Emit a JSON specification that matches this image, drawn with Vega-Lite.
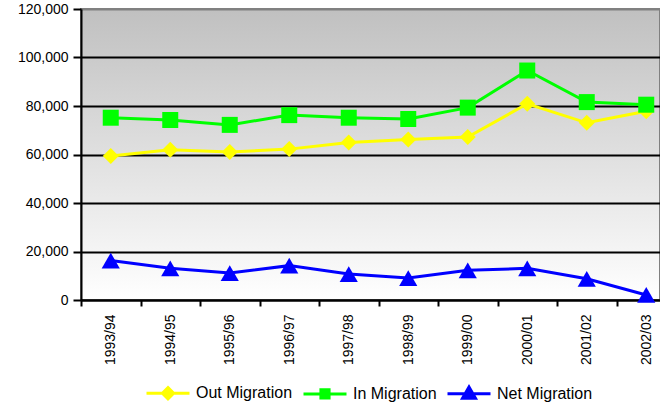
{
  "$schema": "https://vega.github.io/schema/vega-lite/v6.json",
  "autosize": {"type": "none"},
  "padding": {"left": 81, "top": 9, "right": 0, "bottom": 106},
  "width": 579,
  "height": 291,
  "config": {
    "font": "Liberation Sans",
    "view": {
      "stroke": "#808080",
      "strokeWidth": 2,
      "fill": {"gradient": "linear", "x1": 0, "y1": 0, "x2": 0, "y2": 1, "stops": [{"offset": 0, "color": "#c0c0c0"}, {"offset": 1, "color": "#ffffff"}]}
    },
    "axis": {"labelFont": "Liberation Sans", "labelColor": "#000000", "labelFontSize": 14, "domainColor": "#000000", "domainWidth": 2, "tickColor": "#000000", "tickWidth": 2, "gridColor": "#000000", "gridWidth": 2, "gridOpacity": 1}
  },
  "data": {
    "values": [
      {"year": "1993/94", "series": "Out Migration", "value": 59350},
      {"year": "1994/95", "series": "Out Migration", "value": 61960},
      {"year": "1995/96", "series": "Out Migration", "value": 61050},
      {"year": "1996/97", "series": "Out Migration", "value": 62220},
      {"year": "1997/98", "series": "Out Migration", "value": 64970},
      {"year": "1998/99", "series": "Out Migration", "value": 66140},
      {"year": "1999/00", "series": "Out Migration", "value": 67190},
      {"year": "2000/01", "series": "Out Migration", "value": 80910},
      {"year": "2001/02", "series": "Out Migration", "value": 73070},
      {"year": "2002/03", "series": "Out Migration", "value": 77800},
      {"year": "1993/94", "series": "In Migration", "value": 75170},
      {"year": "1994/95", "series": "In Migration", "value": 74230},
      {"year": "1995/96", "series": "In Migration", "value": 72215},
      {"year": "1996/97", "series": "In Migration", "value": 76240},
      {"year": "1997/98", "series": "In Migration", "value": 75170},
      {"year": "1998/99", "series": "In Migration", "value": 74630},
      {"year": "1999/00", "series": "In Migration", "value": 79330},
      {"year": "2000/01", "series": "In Migration", "value": 94630},
      {"year": "2001/02", "series": "In Migration", "value": 81610},
      {"year": "2002/03", "series": "In Migration", "value": 80540},
      {"year": "1993/94", "series": "Net Migration", "value": 16250},
      {"year": "1994/95", "series": "Net Migration", "value": 13060},
      {"year": "1995/96", "series": "Net Migration", "value": 11110},
      {"year": "1996/97", "series": "Net Migration", "value": 14170},
      {"year": "1997/98", "series": "Net Migration", "value": 10690},
      {"year": "1998/99", "series": "Net Migration", "value": 9030},
      {"year": "1999/00", "series": "Net Migration", "value": 12220},
      {"year": "2000/01", "series": "Net Migration", "value": 13060},
      {"year": "2001/02", "series": "Net Migration", "value": 8750},
      {"year": "2002/03", "series": "Net Migration", "value": 2080}
    ]
  },
  "encoding": {
    "x": {
      "field": "year", "type": "nominal", "title": null,
      "scale": {"type": "band", "paddingInner": 0, "paddingOuter": 0, "range": [0, 595]},
      "axis": {"labelAngle": -90, "labelPadding": 8, "tickBand": "extent", "tickSize": 6, "grid": false}
    },
    "y": {
      "field": "value", "type": "quantitative", "title": null,
      "scale": {"domain": [0, 120000]},
      "axis": {
        "values": [0, 20000, 40000, 60000, 80000, 100000, 120000], "format": ",.0f", "tickSize": 8, "labelPadding": 5, "grid": true,
        "gridColor": {"condition": {"test": "datum.value === 120000", "value": "#808080"}, "value": "#000000"}
      }
    },
    "color": {
      "field": "series", "type": "nominal", "title": null,
      "scale": {"domain": ["Out Migration", "In Migration", "Net Migration"], "range": ["#ffff00", "#00ff00", "#0000ff"]},
      "legend": {
        "orient": "none", "legendX": 64, "legendY": 361, "direction": "horizontal", "padding": 0,
        "labelFontSize": 16, "labelFont": "Liberation Sans", "labelColor": "#000000", "labelOffset": 5,
        "symbolSize": 1849, "symbolOpacity": 1, "columnPadding": 4,
        "encode": {"symbols": {"update": {
          "stroke": {"scale": "color", "field": "value"},
          "fill": {"scale": "color", "field": "value"},
          "strokeWidth": {"value": 3},
          "opacity": {"value": 1}
        }}}
      }
    }
  },
  "layer": [
    {"mark": {"type": "line", "strokeWidth": 3}},
    {
      "transform": [{"filter": "datum.series === 'Out Migration'"}],
      "mark": {"type": "point", "filled": true, "opacity": 1, "size": 256, "shape": "diamond"}
    },
    {
      "transform": [{"filter": "datum.series === 'In Migration'"}],
      "mark": {"type": "point", "filled": true, "opacity": 1, "size": 256, "shape": "square"}
    },
    {
      "transform": [{"filter": "datum.series === 'Net Migration'"}],
      "mark": {"type": "point", "filled": true, "opacity": 1, "size": 330, "shape": "triangle-up"}
    },
    {
      "mark": {"type": "point", "filled": true, "opacity": 0},
      "encoding": {
        "shape": {
          "field": "series", "type": "nominal", "title": null,
          "scale": {"domain": ["Out Migration", "In Migration", "Net Migration"], "range": [
            "M-1,0H1M0,-0.26L0.26,0L0,0.26L-0.26,0Z",
            "M-1,0H1M-0.19,-0.19H0.19V0.19H-0.19Z",
            "M-1,0H1M0,-0.32L0.3,0.2L-0.3,0.2Z"
          ]}
        }
      }
    }
  ]
}
